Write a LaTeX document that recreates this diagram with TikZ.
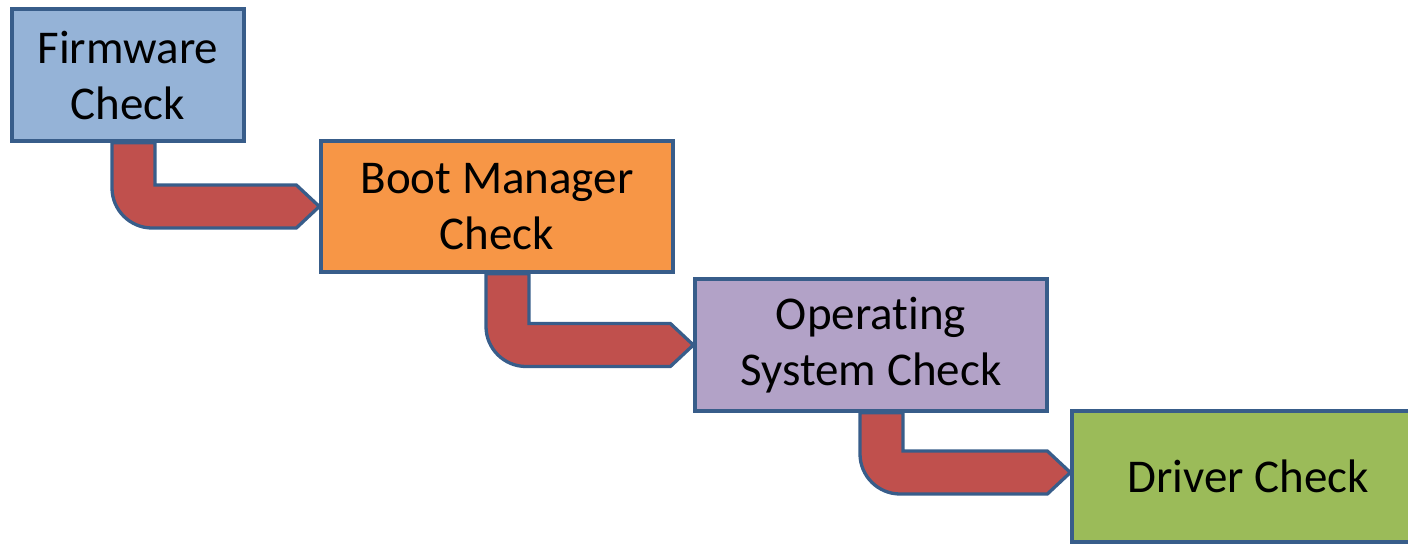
\documentclass[tikz,border=0pt]{standalone}
\usepackage{fontspec}
\setmainfont{Carlito}[Ligatures=CommonOff]
\usetikzlibrary{calc,backgrounds}
\definecolor{edgeblue}{RGB}{56,93,138}
\definecolor{fwfill}{RGB}{149,179,215}
\definecolor{bmfill}{RGB}{247,150,70}
\definecolor{osfill}{RGB}{178,162,199}
\definecolor{drfill}{RGB}{155,187,89}
\definecolor{arrowred}{RGB}{192,80,77}
\tikzset{
  stepbox/.style={draw=edgeblue, line width=3.3pt, align=center, inner sep=0pt,
    font=\fontsize{47}{56}\selectfont, text=black},
  steparrowstyle/.style={draw=edgeblue, fill=arrowred, line width=3.3pt, line join=miter},
}
% #1 source node, #2 target node, #3 left x of vertical stem (pt), #4 tip y shift (pt, canvas)
\newcommand\steparrow[4]{%
  \begin{scope}[on background layer]
  \path[steparrowstyle] let \p1=(#1.south), \p2=($(#2.west)+(0,#4)$) in
    ({#3pt}, \y1) -- ({#3pt+43pt}, \y1) -- ({#3pt+43pt}, {\y2+21.5pt})
    -- ({\x2-23pt}, {\y2+21.5pt}) -- (\x2, \y2) -- ({\x2-23pt}, {\y2-21.5pt})
    -- ({#3pt+40pt}, {\y2-21.5pt})
    .. controls ({#3pt+18pt}, {\y2-21.5pt}) and ({#3pt}, {\y2-3.5pt}) ..
    ({#3pt}, {\y2+18.5pt}) -- cycle;
  \end{scope}}
\begin{document}
\begin{tikzpicture}[x=1pt, y=-1pt]
\useasboundingbox (0,0) rectangle (1408,544);
\node[stepbox, fill=fwfill, minimum width=232pt, minimum height=132pt] (fw) at (128,75) {Firmware\\Check};
\node[stepbox, fill=bmfill, minimum width=352pt, minimum height=131pt] (bm) at (497,206.5) {Boot Manager\\Check};
\node[stepbox, fill=osfill, minimum width=352pt, minimum height=132pt] (os) at (871,345) {Operating\\System Check};
\node[stepbox, fill=drfill, minimum width=352pt, minimum height=131pt] (dr) at (1248,476.5) {Driver Check};
\steparrow{fw}{bm}{112}{0}
\steparrow{bm}{os}{486}{0}
\steparrow{os}{dr}{860}{-4}
\end{tikzpicture}
\end{document}
